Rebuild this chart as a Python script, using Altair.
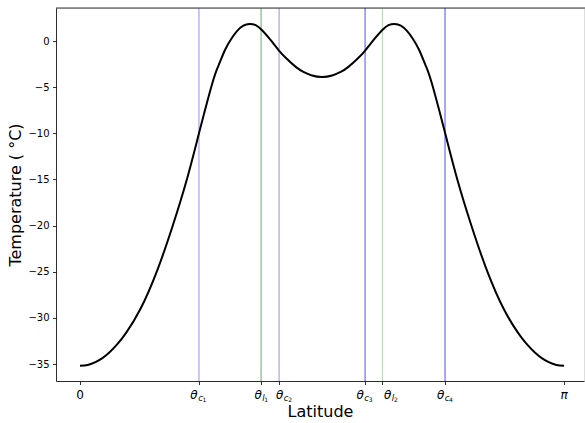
import altair as alt
import pandas as pd

# Curve: latitude (rad) vs temperature (deg C)
lat = [0.00, 0.05, 0.10, 0.145, 0.19, 0.245, 0.30, 0.39, 0.50, 0.60, 0.69, 0.772, 0.86, 0.90,
       0.94, 0.98, 1.02, 1.06, 1.10, 1.14, 1.18, 1.235, 1.29, 1.34, 1.40, 1.45, 1.50, 1.571,
       1.642, 1.692, 1.742, 1.802, 1.852, 1.907, 1.962, 2.002, 2.042, 2.082, 2.122, 2.162,
       2.202, 2.242, 2.282, 2.370, 2.452, 2.542, 2.642, 2.752, 2.842, 2.897, 2.952, 2.997,
       3.042, 3.092, 3.1416]
temp = [-35.2, -35.1, -34.8, -34.36, -33.76, -32.8, -31.6, -29.1, -24.9, -20.1, -15.2, -10.0, -4.5, -2.6,
        -1.0, 0.2, 1.1, 1.67, 1.85, 1.72, 1.2, 0.15, -1.0, -1.9, -2.8, -3.35, -3.7, -3.9,
        -3.7, -3.35, -2.8, -1.9, -1.0, 0.15, 1.2, 1.72, 1.85, 1.67, 1.1, 0.2,
        -1.0, -2.6, -4.5, -10.0, -15.2, -20.1, -24.9, -29.1, -31.6, -32.8, -33.76, -34.36,
        -34.8, -35.1, -35.2]

# Vertical markers
mark_names = ["c1", "l1", "c2", "c3", "l2", "c4"]
mark_pos = [0.772, 1.175, 1.292, 1.850, 1.962, 2.369]
mark_colors = ["#8f8fff", "#66aa66", "#8f8fff", "#5050f0", "#aed6ae", "#5050f0"]

# x tick positions
tick_pos = [0.0, 0.772, 1.175, 1.292, 1.850, 1.962, 2.369, 3.14159]
y_ticks = [0, -5, -10, -15, -20, -25, -30, -35]

# tick label glyph parts
lab_theta = ["θ"] * 6
lab_sub = ["c", "l", "c", "c", "l", "c"]
lab_num = ["1", "1", "2", "3", "2", "4"]

W, H = 528, 373
xscale = alt.Scale(domain=[-0.156, 3.271], nice=False, zero=False)
yscale = alt.Scale(domain=[-36.84, 3.58], nice=False, zero=False)

curve_df = pd.DataFrame({"lat": lat, "temp": temp})
marks_df = pd.DataFrame({"name": mark_names, "pos": mark_pos, "color": mark_colors})

# glyph offsets (pixel styling relative to each tick)
theta_dx = [-5, -3, 0.7, -5, 5.3, -4.3]
sub_dx = [1.5, 2.3, 7, 1.5, 10.5, 2]
num_dx = [5.5, 5, 11, 5.5, 13.5, 6]

FONT = "DejaVu Sans"


def glyph(xval, text, dx, ypix, size, italic):
    kw = dict(font=FONT, align="center", baseline="alphabetic", color="black",
              dx=dx, fontSize=size)
    if italic:
        kw["fontStyle"] = "italic"
    return alt.Chart(pd.DataFrame({"x": [xval], "t": [text]})).mark_text(**kw).encode(
        x=alt.X("x:Q", scale=xscale),
        y=alt.value(ypix),
        text="t:N",
    )


curve = alt.Chart(curve_df).mark_line(color="black", strokeWidth=2, interpolate="natural").encode(
    x=alt.X("lat:Q", scale=xscale,
            axis=alt.Axis(values=tick_pos, labels=False, grid=False, tickSize=3.5,
                          tickColor="black", domainColor="black", tickWidth=0.8, domainWidth=0.8,
                          title="Latitude", titleFont=FONT, titleFontSize=16, titleFontWeight="normal",
                          titleColor="black", titlePadding=19)),
    y=alt.Y("temp:Q", scale=yscale,
            axis=alt.Axis(values=y_ticks, grid=False, tickSize=3.5, tickColor="black",
                          domainColor="black", tickWidth=0.8, domainWidth=0.8,
                          labelFont=FONT, labelFontSize=10, labelColor="black", labelPadding=3.5,
                          title="Temperature ( °C)", titleFont=FONT, titleFontSize=16,
                          titleFontWeight="normal", titleColor="black", titlePadding=4)),
)

vlines = alt.Chart(marks_df).mark_rule(strokeWidth=1).encode(
    x=alt.X("pos:Q", scale=xscale),
    y=alt.value(0),
    y2=alt.value(H),
    color=alt.Color("color:N", scale=None),
)

top_spine = alt.Chart(pd.DataFrame({"a": [0]})).mark_rule(color="black", strokeWidth=0.8).encode(
    x=alt.value(0), x2=alt.value(W + 5), y=alt.value(0)
)

layers = [vlines, curve, top_spine]
for i in range(6):
    layers.append(glyph(mark_pos[i], lab_theta[i], theta_dx[i], H + 17.5, 12, True))
    layers.append(glyph(mark_pos[i], lab_sub[i], sub_dx[i], H + 19.5, 8.5, True))
    layers.append(glyph(mark_pos[i], lab_num[i], num_dx[i], H + 21.0, 6, False))
layers.append(glyph(0.0, "0", 0, H + 17.5, 12, False))
layers.append(glyph(3.14159, "π", 0, H + 17.5, 12, True))

chart = alt.layer(*layers).properties(
    width=W, height=H,
    autosize=alt.AutoSizeParams(type="none"),
    padding={"left": 56, "top": 8, "right": 1, "bottom": 42},
).configure_view(stroke=None).configure(background="white")

chart.save("out.html", embed_options={"renderer": "svg", "actions": False})
